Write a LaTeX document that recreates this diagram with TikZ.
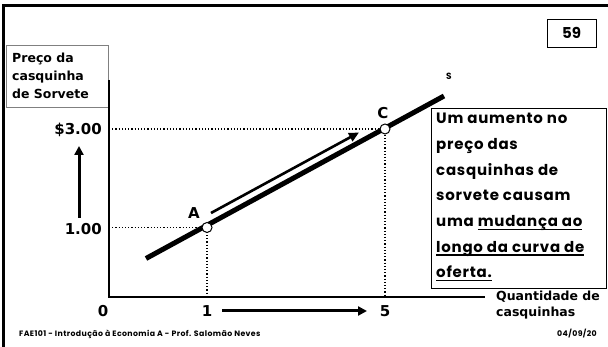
\documentclass[tikz,border=0pt]{standalone}
\usepackage{fontspec}
\setmainfont{DejaVu Sans}
\newfontfamily\gothic{Poppins}
\newfontfamily\gothicsp[LetterSpace=5]{Poppins}
\newcommand\myul[1]{\setbox0\hbox{#1}\rlap{\rule[-3.5pt]{\wd0}{1.5pt}}\box0}
\usetikzlibrary{arrows.meta}
\begin{document}
\begin{tikzpicture}[x=1pt,y=-1pt,
  lbl/.style={font=\bfseries\fontsize{12.5}{15}\selectfont, inner sep=0},
  num/.style={font=\bfseries\fontsize{15}{17}\selectfont, inner sep=0},
  gth/.style={font=\gothic\bfseries, inner sep=0},
  dotl/.style={dotted, line width=1.2pt},
  bigarrow/.style={line width=3pt, -{Triangle[length=9pt,width=9pt]}},
  pt/.style={circle, draw, line width=1pt, fill=white, inner sep=0, minimum size=10pt}]
\useasboundingbox (0,0) rectangle (608,347);
% slide frame
\draw[line width=2.6pt] (3.5,347) -- (3.5,5.5) -- (608,5.5);
% slide number
\node[draw, line width=0.8pt, minimum width=49pt, minimum height=28pt, inner sep=0,
  font=\gothic\bfseries\fontsize{15}{17}\selectfont] (num) at (571.5,33) {59};
% y-axis label box
\node[draw=gray, line width=0.8pt, anchor=north west, minimum width=102pt, minimum height=62pt,
  inner sep=0] (ybox) at (6,45) {};
\node[lbl, anchor=west, align=left, font=\bfseries\fontsize{12.5}{18}\selectfont] (ylab) at (12,76) {Preço da\\casquinha\\de Sorvete};
% axes
\coordinate (top) at (109,80);
\coordinate (orig) at (109,297);
\coordinate (xend) at (485,297);
\draw[line width=1.3pt] (top) -- (orig) -- (xend);
% key coordinates
\coordinate (pA) at (207,227.5);
\coordinate (pC) at (385,129);
\coordinate (y1) at (109,227.5);
\coordinate (y3) at (109,129);
\coordinate (x1) at (207,297);
\coordinate (x5) at (385,297);
% dotted guides
\draw[dotl] (y3) -- (pC) -- (x5);
\draw[dotl] (y1) -- (pA) -- (x1);
% supply curve
\coordinate (s1) at (146,258.5);
\coordinate (s2) at (444,96);
\draw[line width=5pt] (s1) -- (s2);
% movement arrow along the curve
\coordinate (m1) at (211,213);
\coordinate (m2) at (359,132.5);
\draw[line width=2.6pt, -{Triangle[length=10pt,width=9pt]}] (m1) -- (m2);
% points
\node[pt] (A) at (pA) {};
\node[pt] (C) at (pC) {};
\node[num] (Alab) at (194,213) {A};
\node[num] (Clab) at (383,113) {C};
\node[gth, font=\gothic\bfseries\fontsize{9}{10}\selectfont] (S) at (449,76) {S};
% y values and arrow
\node[num, anchor=east] (v3) at (102,130) {\$3.00};
\node[num, anchor=east] (v1) at (102,229) {1.00};
\coordinate (ua1) at (79,218);
\coordinate (ua2) at (79,146);
\draw[bigarrow] (ua1) -- (ua2);
% x values and arrow
\node[num] (q0) at (103,311) {0};
\node[num] (q1) at (207,311) {1};
\node[num] (q5) at (385,311) {5};
\coordinate (ra1) at (222,311);
\coordinate (ra2) at (367,311);
\draw[bigarrow] (ra1) -- (ra2);
\node[lbl, anchor=north west, align=left, font=\bfseries\fontsize{12.5}{15.5}\selectfont] (xlab) at (496,291) {Quantidade de\\casquinhas};
% text box
\node[draw, line width=1.2pt, anchor=north west, minimum width=175pt, minimum height=180pt, inner sep=0] (tbox) at (431,108) {};
\node[inner sep=0, anchor=north west, align=left, font=\gothicsp\bfseries\fontsize{15}{25.7}\selectfont] (txt) at (436,113)
  {Um aumento no\\preço das\\casquinhas de\\sorvete causam\\uma \myul{mudança ao}\\\myul{longo da curva de}\\\myul{oferta.}};
% footer
\node[inner sep=0, anchor=west, font=\gothicsp\bfseries\fontsize{7.8}{9}\selectfont] (foot) at (19,334) {FAE101 - Introdução à Economia A - Prof. Salomão Neves};
\node[inner sep=0, anchor=east, font=\gothicsp\bfseries\fontsize{7.8}{9}\selectfont] (date) at (597,334) {04/09/20};
\end{tikzpicture}
\end{document}
